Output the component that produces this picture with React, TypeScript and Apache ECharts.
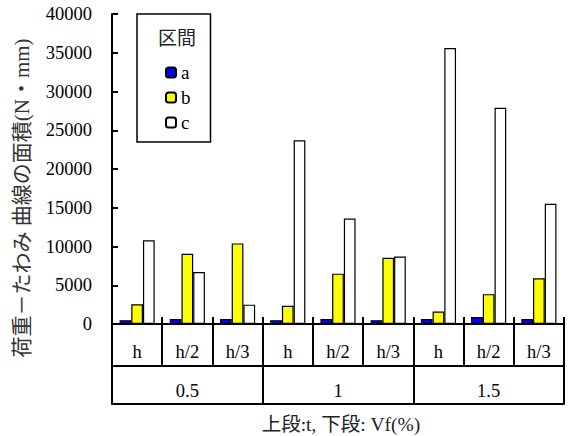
import React, { useEffect, useRef } from "react";
import * as echarts from "echarts";

// Lower row: section spacing t; upper group row: fibre volume Vf(%)
const categories = ["h", "h/2", "h/3", "h", "h/2", "h/3", "h", "h/2", "h/3"];
const groups = ["0.5", "1", "1.5"];
const seriesNames = ["a", "b", "c"];

// Area under the load–deflection curve (N·mm) for each section
const sectionA = [500, 650, 650, 500, 650, 500, 650, 900, 650];
const sectionB = [2550, 9050, 10400, 2350, 6500, 8550, 1600, 3850, 5900];
const sectionC = [10800, 6700, 2500, 23700, 13600, 8700, 35600, 27900, 15500];

const yTicks = { min: 0, max: 40000, interval: 5000 };

// Latin glyphs in a Times-style face, Japanese falls back to the CJK face
const SERIF = "Liberation Serif, Noto Sans CJK JP, serif";

export default function App() {
  const ref = useRef<HTMLDivElement>(null);

  useEffect(() => {
    if (!ref.current) return;
    const chart = echarts.init(ref.current, undefined, { renderer: "svg" });

    const barStyle = (color: string) => ({
      color,
      borderColor: "#000",
      borderWidth: 1.2,
    });

    const axisLine = { show: true, lineStyle: { color: "#000", width: 2 } };
    const catText = { fontSize: 18.5, color: "#000", fontFamily: SERIF };

    chart.setOption({
      animation: false,
      backgroundColor: "#fff",
      textStyle: { fontFamily: SERIF },
      grid: {
        left: 112,
        right: 6,
        top: 14,
        bottom: 112,
        containLabel: false,
        outerBoundsMode: "none",
      },
      legend: {
        orient: "vertical",
        left: 137,
        top: 14,
        padding: [49, 20, 10, 28],
        itemWidth: 10,
        itemHeight: 10,
        itemGap: 6,
        borderColor: "#000",
        borderWidth: 1.5,
        backgroundColor: "#fff",
        textStyle: { fontSize: 19, fontFamily: SERIF, color: "#000" },
        data: seriesNames,
      },
      graphic: [
        {
          type: "text",
          left: 158,
          top: 29,
          z: 100,
          style: {
            text: "区間",
            fontSize: 19,
            fontFamily: SERIF,
            fill: "#222",
          },
        },
      ],
      xAxis: [
        {
          type: "category",
          data: categories,
          position: "bottom",
          axisLine,
          axisTick: {
            show: true,
            interval: 0,
            length: 42,
            lineStyle: { color: "#000", width: 2 },
          },
          axisLabel: { interval: 0, margin: 19, ...catText },
        },
        {
          type: "category",
          data: categories,
          position: "bottom",
          offset: 0,
          axisLine: { show: false },
          axisTick: {
            show: true,
            interval: 0,
            inside: true,
            length: 7,
            lineStyle: { color: "#000", width: 2 },
          },
          axisLabel: { show: false },
        },
        {
          type: "category",
          data: groups,
          position: "bottom",
          offset: 42,
          axisLine,
          axisTick: {
            show: true,
            interval: 0,
            length: 38,
            lineStyle: { color: "#000", width: 2 },
          },
          axisLabel: { interval: 0, margin: 16, ...catText },
        },
        {
          type: "category",
          data: groups,
          position: "bottom",
          offset: 80,
          axisLine,
          axisTick: { show: false },
          axisLabel: { show: false },
          name: "上段:t, 下段: Vf(%)",
          nameLocation: "middle",
          nameGap: 11,
          nameTextStyle: {
            fontSize: 19.5,
            fontFamily: SERIF,
            color: "#222",
            padding: [0, 0, 0, 6],
          },
        },
      ],
      yAxis: {
        type: "value",
        ...yTicks,
        axisLine,
        axisTick: {
          show: true,
          inside: true,
          length: 6,
          lineStyle: { color: "#000", width: 2 },
        },
        splitLine: { show: false },
        axisLabel: {
          margin: 20,
          fontSize: 18.5,
          color: "#000",
          fontFamily: SERIF,
          formatter: (v: number) => String(v),
        },
        name: "荷重－たわみ 曲線の面積(N・mm)",
        nameLocation: "middle",
        nameGap: 80,
        nameRotate: 90,
        nameTextStyle: {
          fontSize: 21,
          fontFamily: SERIF,
          color: "#333",
          padding: [0, 58, 0, 0],
        },
      },
      series: [
        {
          name: "a",
          type: "bar",
          data: sectionA,
          barGap: "0%",
          barCategoryGap: "30%",
          itemStyle: barStyle("#0000ff"),
        },
        {
          name: "b",
          type: "bar",
          data: sectionB,
          barGap: "0%",
          barCategoryGap: "30%",
          itemStyle: barStyle("#ffff00"),
        },
        {
          name: "c",
          type: "bar",
          data: sectionC,
          barGap: "0%",
          barCategoryGap: "30%",
          itemStyle: barStyle("#ffffff"),
        },
      ],
    });

    return () => chart.dispose();
  }, []);

  return (
    <div
      ref={ref}
      style={{ position: "fixed", left: 0, top: 0, width: 570, height: 436 }}
    />
  );
}
